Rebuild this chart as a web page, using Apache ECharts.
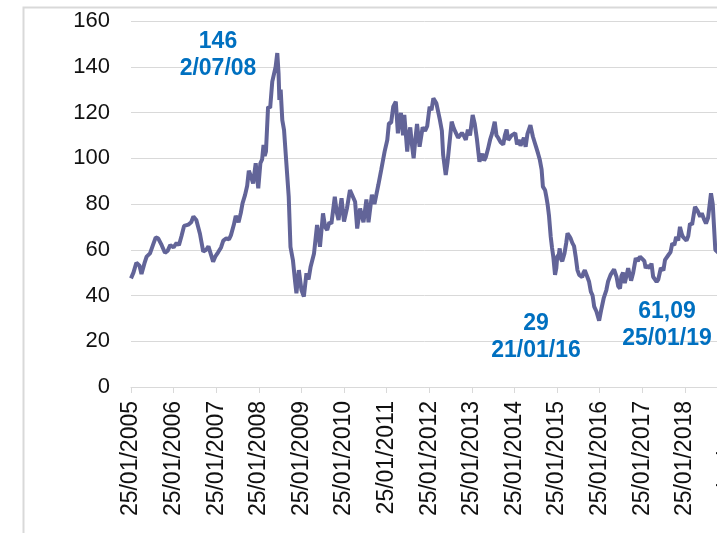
<!DOCTYPE html>
<html>
<head>
<meta charset="utf-8">
<script src="https://cdn.jsdelivr.net/npm/echarts@6/dist/echarts.min.js"></script>
<style>
html,body{margin:0;padding:0;background:#fff;}
#chart{width:717px;height:533px;}
</style>
</head>
<body>
<div id="chart"></div>
<script>
// Brent price (USD/bbl)
const dates = [
'2005-01-25','2005-02-15','2005-03-12','2005-04-08','2005-04-25','2005-05-20','2005-06-08','2005-07-07','2005-08-01','2005-08-25',
'2005-09-15','2005-10-15','2005-11-12','2005-12-05','2005-12-27','2006-01-25','2006-02-20','2006-03-12','2006-04-03','2006-04-25',
'2006-06-01','2006-06-25','2006-07-14','2006-08-08','2006-09-08','2006-10-06','2006-11-01','2006-11-20','2006-12-05','2006-12-30',
'2007-01-17','2007-02-12','2007-03-08','2007-03-27','2007-04-22','2007-05-15','2007-06-01','2007-06-26','2007-07-12','2007-08-05',
'2007-08-24','2007-09-08','2007-09-30','2007-10-18','2007-11-01','2007-11-20','2007-12-08','2007-12-30','2008-01-10','2008-01-21',
'2008-02-08','2008-02-23','2008-03-06','2008-03-16','2008-03-27','2008-04-14','2008-05-02','2008-05-20','2008-06-04','2008-06-18',
'2008-07-02','2008-07-13','2008-07-20','2008-07-31','2008-08-14','2008-08-29','2008-09-16','2008-10-08','2008-10-23','2008-11-13',
'2008-12-02','2008-12-13','2009-01-03','2009-01-25','2009-02-15','2009-03-09','2009-03-27','2009-04-14','2009-05-13','2009-06-08',
'2009-06-22','2009-07-03','2009-07-29','2009-08-16','2009-09-03','2009-09-21','2009-10-09','2009-11-07','2009-11-25','2009-12-09',
'2010-01-04','2010-01-25','2010-02-19','2010-03-17','2010-04-01','2010-04-30','2010-05-18','2010-06-12','2010-07-11','2010-08-05',
'2010-08-23','2010-09-21','2010-10-13','2010-10-31','2010-11-15','2010-12-10','2011-01-08','2011-01-31','2011-02-14','2011-03-05',
'2011-03-23','2011-04-14','2011-05-02','2011-05-13','2011-05-28','2011-06-15','2011-06-26','2011-07-21','2011-08-01','2011-08-16',
'2011-08-30','2011-09-14','2011-09-28','2011-10-13','2011-11-04','2011-11-30','2011-12-21','2012-01-08','2012-01-29','2012-02-14',
'2012-03-01','2012-03-27','2012-04-25','2012-05-13','2012-05-24','2012-06-04','2012-06-15','2012-06-30','2012-07-14','2012-08-05',
'2012-08-24','2012-09-11','2012-09-29','2012-10-14','2012-11-01','2012-11-16','2012-12-04','2012-12-22','2013-01-09','2013-02-01',
'2013-02-19','2013-03-09','2013-03-31','2013-04-25','2013-05-10','2013-05-25','2013-06-12','2013-06-30','2013-07-18','2013-08-09',
'2013-08-24','2013-09-07','2013-09-29','2013-10-21','2013-11-04','2013-11-19','2013-12-03','2013-12-18','2014-01-01','2014-01-17',
'2014-02-01','2014-02-16','2014-03-03','2014-03-18','2014-04-01','2014-04-16','2014-05-01','2014-05-16','2014-06-11','2014-07-02',
'2014-07-17','2014-08-01','2014-08-16','2014-08-31','2014-09-15','2014-09-26','2014-10-07','2014-10-15','2014-10-26','2014-11-06',
'2014-11-17','2014-12-02','2014-12-13','2014-12-24','2015-01-08','2015-01-19','2015-01-27','2015-02-10','2015-02-17','2015-02-28',
'2015-03-11','2015-03-30','2015-04-14','2015-04-25','2015-05-10','2015-05-21','2015-06-05','2015-06-20','2015-07-04','2015-07-19',
'2015-08-03','2015-08-14','2015-08-29','2015-09-09','2015-09-20','2015-10-09','2015-10-27','2015-11-11','2015-11-26','2015-12-10',
'2015-12-29','2016-01-21','2016-02-09','2016-03-01','2016-03-23','2016-04-06','2016-04-28','2016-05-28','2016-06-19','2016-07-03',
'2016-07-18','2016-07-30','2016-08-13','2016-08-28','2016-09-11','2016-09-26','2016-10-10','2016-10-21','2016-11-08','2016-11-30',
'2016-12-18','2017-01-05','2017-01-25','2017-02-12','2017-02-23','2017-03-10','2017-03-31','2017-04-14','2017-04-28','2017-05-13',
'2017-05-28','2017-06-11','2017-07-03','2017-07-25','2017-08-08','2017-08-23','2017-09-06','2017-09-24','2017-10-09','2017-10-27',
'2017-11-11','2017-11-29','2017-12-14','2017-12-29','2018-01-09','2018-01-25','2018-02-08','2018-02-23','2018-03-10','2018-03-28',
'2018-04-22','2018-05-14','2018-06-05','2018-06-19','2018-06-30','2018-07-11','2018-07-25','2018-08-12','2018-09-06','2018-09-21',
'2018-10-02','2018-10-13','2018-11-20','2018-12-24','2019-01-25'
];
const prices = [
47.5,50,54.3,53,49.4,54,57,58.4,62,65.4,
65,62,58.7,59.5,62,61,63,62,66,70.4,
71,72,74.5,73,67,59.2,60,61.5,62,54.8,
57,59,61,64,65,64.5,66.4,71,74.8,72,
76,80.3,84,88,94.6,92,89,97.8,92,86.9,
97.8,99.5,105.8,101,103,122.5,122,133.5,133,140,
146,137,125.5,130,116.7,112.3,99.2,83.2,61.3,55.5,
46,41,51.1,42.4,39.5,49.7,47,52.6,58.4,70.8,
66,61.3,75.9,70,68.6,72,71.4,83.2,76,73,
82.5,72.3,78,86.1,86.9,81,69.3,78,72,82,
72,84,80,84.5,88.3,94.9,102.9,108,115.3,115.5,
122.5,124.7,110.9,116,119.8,110,119,102.9,110,113.5,
106,100,108,115,105,113.5,112,114,122.5,121,
126.2,124,117,112,101.4,97,92.7,98,105,116,
113,111,109,108.5,111,110,108,112.5,110,118.9,
115,108.5,98.5,102,99,100.5,104,108,111,116,
110,109,107,106,110,112.5,108,108,110,109.5,
111,106,108,105.5,107,109,105,110.5,114.5,109.5,
107,104.5,102,99.2,95,87.6,88,86,83,79.6,
75,65.7,61,57,49,52,57,58,60.6,56,
55,58.4,63,67.2,66,65,63,61.6,57,51.1,
49,49,48,50,51,48.5,46,41.7,40,35.1,
33,29,34,39,42.4,46,49,51.4,48,44,
43,48.5,50,45.4,48.5,51.9,52,46.5,50,56.3,
55,57,56,55,52,53,52,54,48.2,49,
46,47,52,51,55.6,55,57.7,59,62.8,62,
65.6,64,70,67,65.6,66,64,66,71.5,71,
78.8,77,74.5,76,76,73,71.5,74,84.7,80,
70,60,58,50.5,61.09
];
const yTicks = [0,20,40,60,80,100,120,140,160];
const yearLabels = ['2005','2006','2007','2008','2009','2010','2011','2012','2013','2014','2015','2016','2017','2018','2019'];
const notes = [
  {lines:['146','2/07/08'], cx:218, cy:40},
  {lines:['29','21/01/16'], cx:536, cy:322},
  {lines:['61,09','25/01/19'], cx:667, cy:310}
];

const t0 = Date.parse('2005-01-25');
const YEAR = 365.25 * 86400000;
const seriesData = dates.map((d, i) => [(Date.parse(d) - t0) / YEAR, prices[i]]);

const chart = echarts.init(document.getElementById('chart'), null, {renderer: 'canvas'});
const graphics = [{
  type: 'rect', silent: true, z: -1,
  shape: {x: 23.5, y: 7.5, width: 900, height: 900},
  style: {fill: 'none', stroke: '#d9d9d9', lineWidth: 2}
}];
notes.forEach(n => {
  graphics.push({
    type: 'text', silent: true, z: 10,
    x: n.cx, y: n.cy - 12,
    style: {
      text: n.lines.join('\n'),
      fill: '#0070c0',
      font: 'bold 23px "Liberation Sans", Arial, sans-serif',
      align: 'center', verticalAlign: 'top', lineHeight: 27
    }
  });
});

chart.setOption({
  animation: false,
  backgroundColor: '#ffffff',
  grid: {left: 131, top: 21, bottom: 146, width: 596.5, outerBoundsMode: 'none', containLabel: false},
  xAxis: {
    type: 'value', min: 0, max: yearLabels.length - 1, interval: 1,
    axisLine: {show: true, lineStyle: {color: '#d9d9d9', width: 1}},
    axisTick: {show: true, length: 6, lineStyle: {color: '#d9d9d9'}},
    splitLine: {show: false},
    axisLabel: {
      rotate: 90, margin: 14, color: '#111',
      fontFamily: '"Liberation Sans", Arial, sans-serif', fontSize: 23,
      showMaxLabel: true,
      formatter: v => '25/01/' + yearLabels[Math.round(v)]
    }
  },
  yAxis: {
    type: 'value', min: yTicks[0], max: yTicks[yTicks.length - 1], interval: yTicks[1] - yTicks[0],
    axisLine: {show: false}, axisTick: {show: false},
    splitLine: {show: true, lineStyle: {color: '#d9d9d9', width: 1}},
    axisLabel: {margin: 21, color: '#111', fontFamily: '"Liberation Sans", Arial, sans-serif', fontSize: 22}
  },
  series: [{
    type: 'line', data: seriesData, showSymbol: false, smooth: false,
    lineStyle: {color: '#626498', width: 4}, clip: false
  }],
  graphic: graphics
});
</script>
</body>
</html>
